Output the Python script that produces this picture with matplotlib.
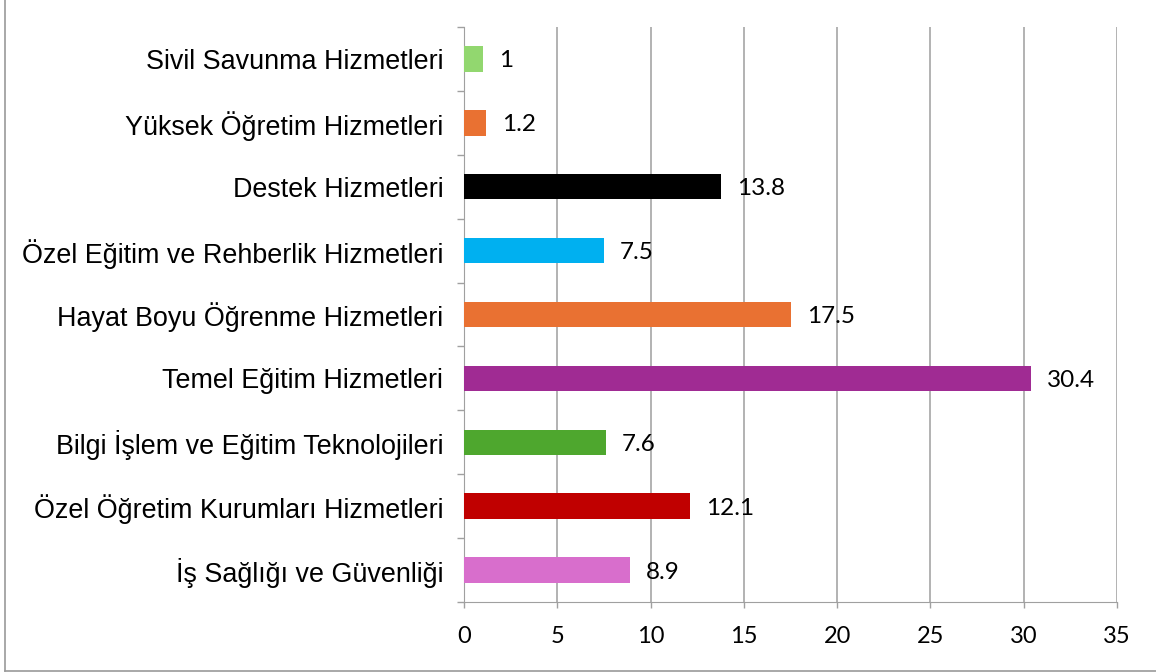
import numpy as np
import matplotlib.pyplot as plt
from matplotlib.lines import Line2D

categories = ["İş Sağlığı ve Güvenliği",
              "Özel Öğretim Kurumları Hizmetleri",
              "Bilgi İşlem ve Eğitim Teknolojileri",
              "Temel Eğitim Hizmetleri",
              "Hayat Boyu Öğrenme Hizmetleri",
              "Özel Eğitim ve Rehberlik Hizmetleri",
              "Destek Hizmetleri",
              "Yüksek Öğretim Hizmetleri",
              "Sivil Savunma Hizmetleri"]
values = [8.9, 12.1, 7.6, 30.4, 17.5, 7.5, 13.8, 1.2, 1]
colors = ["#D86ECC", "#C00000", "#4EA72E", "#A02B93", "#E97132",
          "#00B0F0", "#000000", "#E97132", "#92D76F"]
xticks = [0, 5, 10, 15, 20, 25, 30, 35]

fig = plt.figure(figsize=(11.56, 6.72), dpi=100)
ax = fig.add_axes([0.4014, 0.104, 0.5649, 0.856])

y = np.arange(len(categories))
ax.barh(y, values, height=0.4, color=colors, zorder=3)

for yi, v in zip(y, values):
    ax.text(v + 0.86, yi, f"{v:g}", va="center_baseline", ha="left",
            fontsize=17.5, family="Lato", zorder=4)

ax.set_xlim(0, 35)
ax.set_ylim(-0.5, len(categories) - 0.5)
ax.set_xticks(xticks)
ax.set_xticklabels([str(t) for t in xticks], family="Lato", fontsize=17)
ax.set_yticks(y)
ax.set_yticklabels(categories, family="Liberation Sans", fontsize=19.4)
ax.set_yticks(np.arange(len(categories) + 1) - 0.5, minor=True)

ax.tick_params(axis="y", which="major", length=0, pad=15)
ax.tick_params(axis="y", which="minor", length=5, color="#a0a0a0", width=1)
ax.tick_params(axis="x", length=4, color="#a0a0a0", width=1, pad=13.5)

ax.grid(axis="x", color="#a6a6a6", linewidth=1.2, zorder=0)
for s in ["top", "right"]:
    ax.spines[s].set_visible(False)
ax.spines["left"].set_color("#a0a0a0")
ax.spines["bottom"].set_color("#a0a0a0")

# outer frame (left and bottom visible)
fig.add_artist(Line2D([5 / 1156, 5 / 1156], [1 / 672, 1.0], color="#9a9a9a",
                      linewidth=1.2, transform=fig.transFigure))
fig.add_artist(Line2D([5 / 1156, 1.0], [1.5 / 672, 1.5 / 672], color="#9a9a9a",
                      linewidth=1.2, transform=fig.transFigure))

fig.savefig("out.png", dpi=100)
